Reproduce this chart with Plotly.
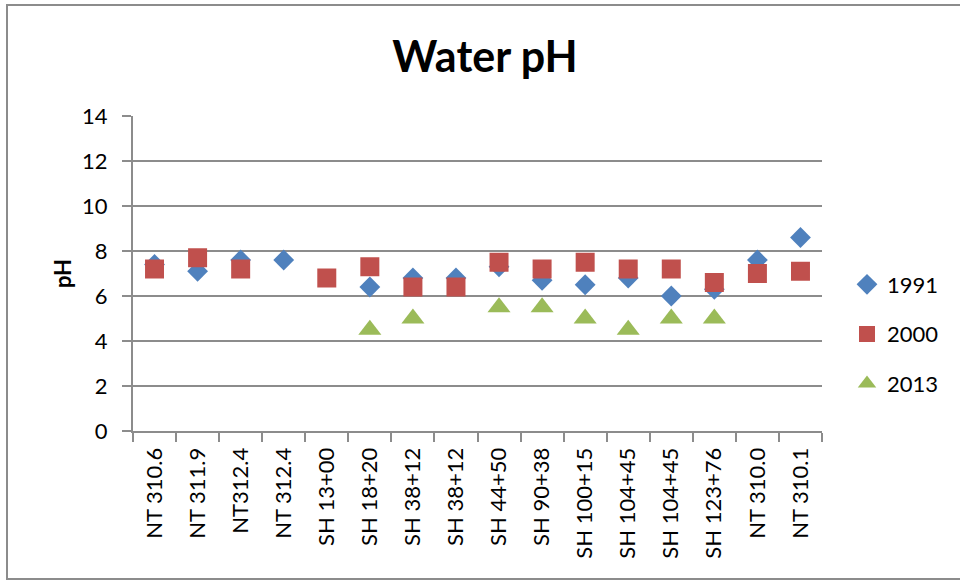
import plotly.graph_objects as go

# ---- data ----
sites = ["NT 310.6", "NT 311.9", "NT312.4", "NT 312.4", "SH 13+00", "SH 18+20",
         "SH 38+12", "SH 38+12", "SH 44+50", "SH 90+38", "SH 100+15", "SH 104+45",
         "SH 104+45", "SH 123+76", "NT 310.0", "NT 310.1"]
ph_1991 = [7.4, 7.1, 7.6, 7.6, None, 6.4, 6.8, 6.8, 7.3, 6.7, 6.5, 6.8, 6.0, 6.3, 7.6, 8.6]
ph_2000 = [7.2, 7.7, 7.2, None, 6.8, 7.3, 6.4, 6.4, 7.5, 7.2, 7.5, 7.2, 7.2, 6.6, 7.0, 7.1]
ph_2013 = [None, None, None, None, None, 4.5, 5.0, None, 5.5, 5.5, 5.0, 4.5, 5.0, 5.0, None, None]
y_ticks = [0, 2, 4, 6, 8, 10, 12, 14]

# duplicate site names must stay separate categories: make keys unique with zero-width spaces
keys = []
seen = {}
for s in sites:
    n = seen.get(s, 0)
    keys.append(s + "\u200b" * n)
    seen[s] = n + 1

FONT = "Lato, 'Liberation Sans', Arial, sans-serif"
GRID = "#8c8c8c"

fig = go.Figure()
series = [
    ("1991", ph_1991, "diamond", "#4F81BD", 16),
    ("2000", ph_2000, "square", "#C0504D", 19),
    ("2013", ph_2013, "triangle-up", "#9BBB59", 20),
]
for i, (name, vals, sym, col, size) in enumerate(series):
    fig.add_trace(go.Scatter(
        x=keys, y=vals, mode="markers", name=name, legendgroup=name,
        marker=dict(symbol=sym, color=col, size=size, line=dict(width=0)),
        cliponaxis=False,
    ))

# plot area pixel box: x 133..822, y 116..431
L, R, T, B = 133, 822, 116, 431
W, H = 960, 581
pw, ph = R - L, B - T
def px(x):
    return (x - L) / pw
def py(y):
    return (B - y) / ph

# chart frame: left, top and bottom edges (right edge lies outside the picture)
frame_path = "M {x1},{yt} L {x0},{yt} L {x0},{yb} L {x1},{yb}".format(
    x0=px(7), x1=px(975), yt=py(5), yb=py(579))

fig.update_layout(
    width=W, height=H,
    margin=dict(l=L, r=W - R, t=T, b=H - B, pad=0),
    paper_bgcolor="white", plot_bgcolor="white",
    font=dict(family=FONT, size=22, color="black"),
    title=dict(text="<b>Water pH</b>", x=485 / W, xanchor="center",
               y=1 - 57 / H, yanchor="middle", font=dict(size=43, family=FONT)),
    showlegend=True,
    legend=dict(x=px(847), xanchor="left", y=py(334), yanchor="middle",
                traceorder="grouped", tracegroupgap=18,
                font=dict(size=22), bgcolor="rgba(0,0,0,0)"),
    xaxis=dict(
        type="category", categoryorder="array", categoryarray=keys,
        range=[-0.5, len(keys) - 0.5],
        tickmode="array", tickvals=keys, ticktext=sites,
        tickangle=-90, tickson="boundaries", ticks="outside", ticklen=9,
        tickcolor=GRID, tickwidth=2, ticklabelstandoff=6,
        showline=True, linecolor=GRID, linewidth=2, showgrid=False,
        tickfont=dict(size=22), zeroline=False,
    ),
    yaxis=dict(
        range=[0, 14], tickmode="array", tickvals=y_ticks,
        ticks="outside", ticklen=9, tickcolor=GRID, tickwidth=2,
        ticklabelstandoff=10,
        showline=True, linecolor=GRID, linewidth=2,
        showgrid=True, gridcolor=GRID, gridwidth=2, zeroline=False,
        tickfont=dict(size=22),
        title=dict(text="<b>pH</b>", standoff=4, font=dict(size=22)),
    ),
    shapes=[dict(type="path", xref="paper", yref="paper", path=frame_path,
                 line=dict(color="#8c8c8c", width=2), layer="below")],
)

fig.write_html("out.html", config={"displayModeBar": False},
               post_script="document.body.style.margin='0';")
